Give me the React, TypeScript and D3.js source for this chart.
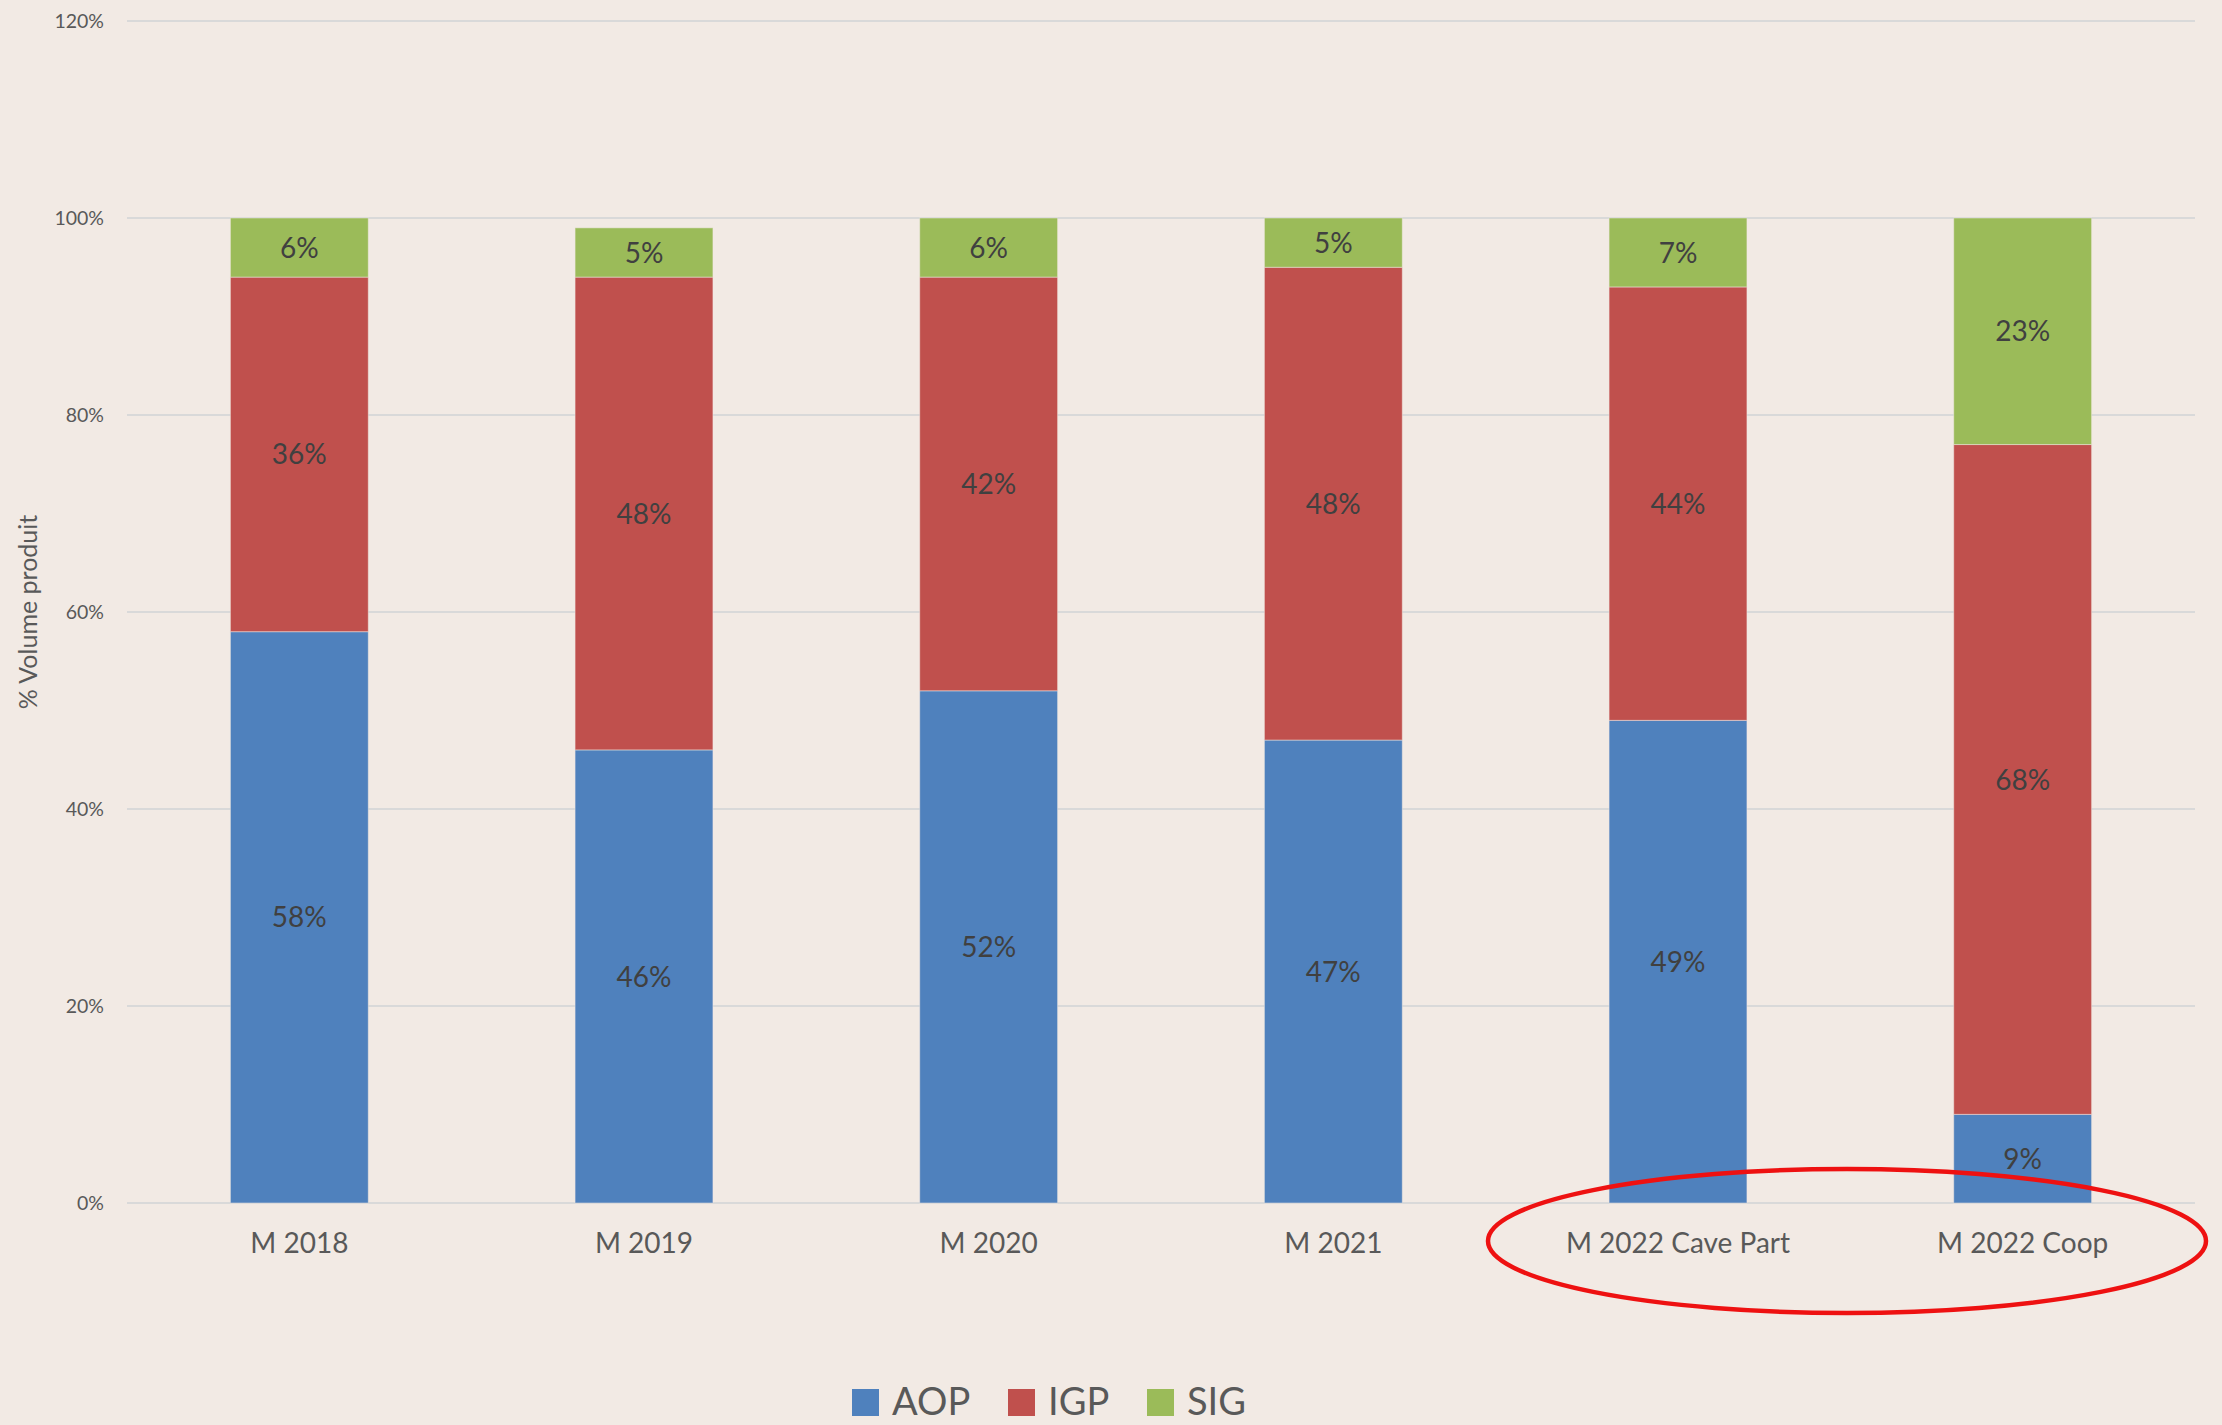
import React from "react";
import * as d3 from "d3";

const categories = ["M 2018", "M 2019", "M 2020", "M 2021", "M 2022 Cave Part", "M 2022 Coop"];
const aop = [58, 46, 52, 47, 49, 9];
const igp = [36, 48, 42, 48, 44, 68];
const sig = [6, 5, 6, 5, 7, 23];
const seriesNames = ["AOP", "IGP", "SIG"];
const seriesColors = ["#4F81BD", "#C0504D", "#9BBB59"];
const yTicks = [0, 20, 40, 60, 80, 100, 120];
const yTitle = "% Volume produit";

const W = 2222;
const H = 1425;
const FONT = "Lato, 'Open Sans', sans-serif";

export default function App() {
  const x = d3.scaleBand<string>().domain(categories).range([127, 2195]).paddingInner(0.6).paddingOuter(0.3);
  const y = d3.scaleLinear().domain([0, 120]).range([1203, 21]);

  const rows = categories.map((c, i) => ({ cat: c, AOP: aop[i], IGP: igp[i], SIG: sig[i] }));
  const stacked = d3.stack<any>().keys(seriesNames)(rows);

  return (
    <svg width={W} height={H} style={{ position: "absolute", left: 0, top: 0, display: "block" }} fontFamily={FONT}>
      <rect x={0} y={0} width={W} height={H} fill="#F2EAE4" />
      {/* gridlines */}
      {yTicks.map((t) => (
        <line key={t} x1={127} x2={2195} y1={y(t)} y2={y(t)} stroke="#D9D9D9" strokeWidth={2} />
      ))}
      {/* tick labels */}
      {yTicks.map((t) => (
        <text key={"l" + t} x={104} y={y(t)} dy="0.36em" textAnchor="end" fontSize={19.5} fill="#595959">
          {t + "%"}
        </text>
      ))}
      {/* axis title */}
      <text
        transform={`translate(37, 612) rotate(-90)`}
        textAnchor="middle"
        fontSize={25}
        fill="#595959"
      >
        {yTitle}
      </text>
      {/* bars */}
      {stacked.map((s, si) =>
        s.map((d, i) => (
          <rect
            key={seriesNames[si] + i}
            x={x(categories[i])}
            width={x.bandwidth()}
            y={y(d[1])}
            height={y(d[0]) - y(d[1])}
            fill={seriesColors[si]}
            stroke="#F2EAE4"
            strokeOpacity={0.5}
            strokeWidth={1}
          />
        ))
      )}
      {/* data labels */}
      {stacked.map((s, si) =>
        s.map((d, i) => (
          <text
            key={"t" + seriesNames[si] + i}
            x={(x(categories[i]) as number) + x.bandwidth() / 2}
            y={y((d[0] + d[1]) / 2)}
            dy="0.36em"
            textAnchor="middle"
            fontSize={28}
            fill="#404040"
          >
            {d[1] - d[0] + "%"}
          </text>
        ))
      )}
      {/* category labels */}
      {categories.map((c) => (
        <text
          key={"c" + c}
          x={(x(c) as number) + x.bandwidth() / 2}
          y={1253}
          textAnchor="middle"
          fontSize={28}
          fill="#595959"
        >
          {c}
        </text>
      ))}
      {/* legend */}
      {seriesNames.map((n, i) => {
        const lx = [852, 1008, 1147][i];
        return (
          <g key={"lg" + n}>
            <rect x={lx} y={1389} width={27} height={27} fill={seriesColors[i]} />
            <text x={lx + 40} y={1415} fontSize={38} fill="#595959">
              {n}
            </text>
          </g>
        );
      })}
      {/* red highlight ellipse */}
      <ellipse cx={1847} cy={1241} rx={359} ry={72} fill="none" stroke="#EE1111" strokeWidth={4.5} />
    </svg>
  );
}
